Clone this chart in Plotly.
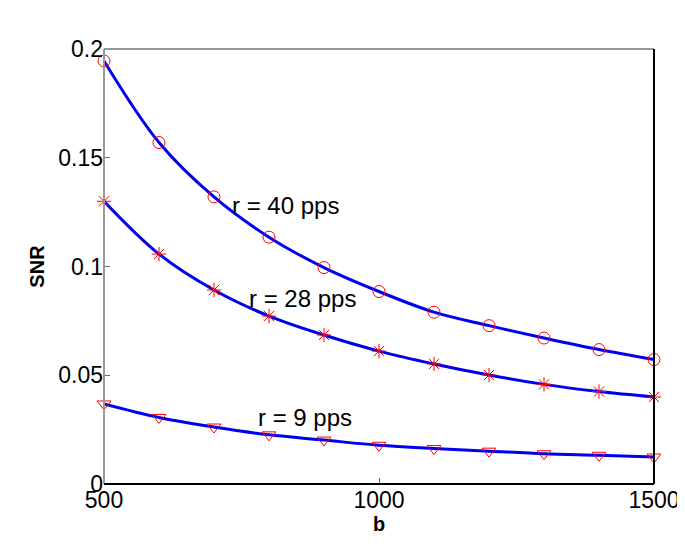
import plotly.graph_objects as go

# data
b = [500, 600, 700, 800, 900, 1000, 1100, 1200, 1300, 1400, 1500]
snr_r40 = [0.1945, 0.157, 0.132, 0.1135, 0.0995, 0.0885, 0.0790, 0.0728, 0.0671, 0.0618, 0.0572]
snr_r28 = [0.1300, 0.1057, 0.0892, 0.0772, 0.0685, 0.0611, 0.0552, 0.0501, 0.0458, 0.0425, 0.0400]
snr_r9 = [0.0368, 0.0306, 0.0262, 0.0226, 0.0202, 0.0178, 0.0163, 0.0151, 0.0139, 0.0132, 0.0124]

labels = ["r = 40 pps", "r = 28 pps", "r = 9 pps"]
label_x = [830, 860, 866]
label_y = [0.128, 0.0855, 0.0305]

series = [(snr_r40, "circle-open"), (snr_r28, "asterisk-open"), (snr_r9, "triangle-down-open")]

fig = go.Figure()

for vals, sym in series:
    # blue curve
    fig.add_trace(go.Scatter(
        x=b, y=vals, mode="lines",
        line=dict(color="#0000ee", width=3, shape="spline"),
        showlegend=False
    ))
    # red markers
    fig.add_trace(go.Scatter(
        x=b, y=vals, mode="markers",
        marker=dict(symbol=sym, color="red", size=12, line=dict(color="red", width=1)),
        showlegend=False,
        cliponaxis=False
    ))

for txt, lx, ly in zip(labels, label_x, label_y):
    fig.add_annotation(x=lx, y=ly, text=txt, showarrow=False,
                       font=dict(family="Liberation Sans, Arial", size=24, color="black"))

# box: left/top gray, right/bottom black
fig.add_shape(type="line", xref="paper", yref="paper", x0=0, x1=0, y0=0, y1=1,
              line=dict(color="#999999", width=2))
fig.add_shape(type="line", xref="paper", yref="paper", x0=0, x1=1, y0=1, y1=1,
              line=dict(color="#999999", width=2))
fig.add_shape(type="line", xref="paper", yref="paper", x0=1, x1=1, y0=0, y1=1,
              line=dict(color="black", width=2))
fig.add_shape(type="line", xref="paper", yref="paper", x0=0, x1=1, y0=0, y1=0,
              line=dict(color="black", width=2))

fig.update_layout(
    width=685, height=548,
    margin=dict(l=96, r=39, t=41, b=72),
    plot_bgcolor="white",
    paper_bgcolor="white",
    font=dict(family="Liberation Sans, Arial", size=23, color="black"),
    xaxis=dict(
        range=[500, 1500],
        tickvals=[500, 1000, 1500],
        ticks="inside", ticklen=6, tickcolor="#666666",
        showgrid=False, zeroline=False, showline=False,
        automargin=False,
        title=dict(text="<b>b</b>", font=dict(size=20), standoff=4),
    ),
    yaxis=dict(
        range=[0, 0.2],
        tickvals=[0, 0.05, 0.1, 0.15, 0.2],
        ticktext=["0", "0.05", "0.1", "0.15", "0.2"],
        ticks="inside", ticklen=6, tickcolor="#666666",
        showgrid=False, zeroline=False, showline=False,
        automargin=False,
        title=dict(text="<b>SNR</b>", font=dict(size=20), standoff=8),
    ),
)

fig.write_html("out.html")
